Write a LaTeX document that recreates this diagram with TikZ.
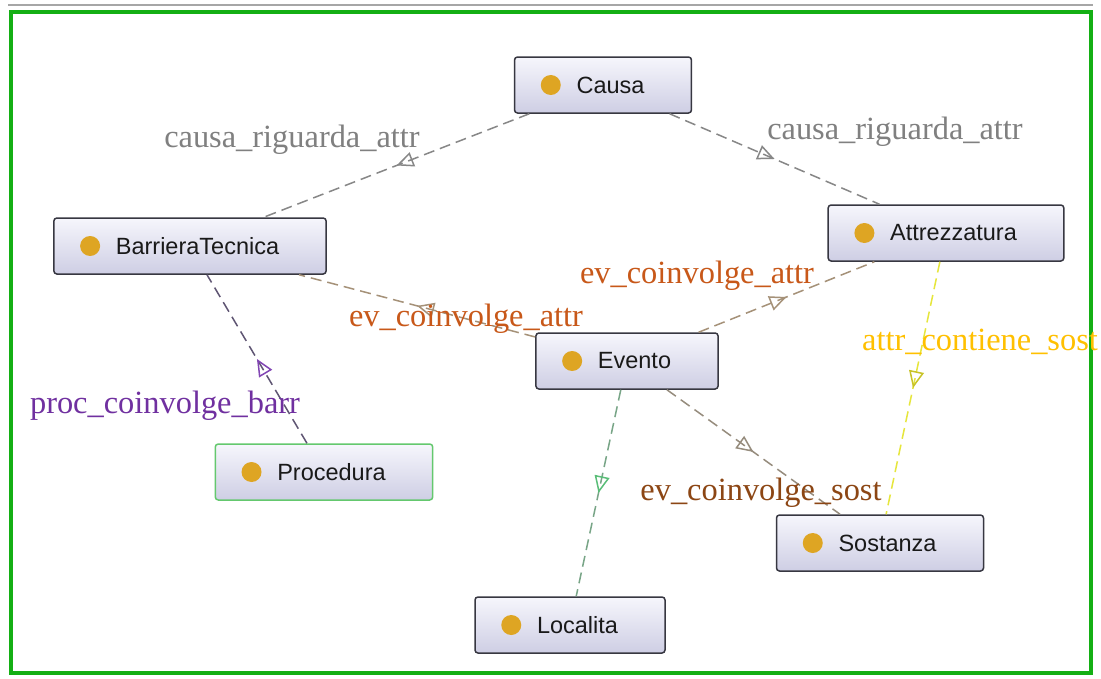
\documentclass[tikz,border=0pt]{standalone}
\usepackage{fontspec}
\usetikzlibrary{arrows.meta,decorations.markings}
\newfontfamily\nodefont{Liberation Sans}
\newfontfamily\labfont{Liberation Serif}
\definecolor{frame}{RGB}{20,175,20}
\definecolor{ntop}{RGB}{246,246,252}
\definecolor{nbot}{RGB}{206,206,228}
\definecolor{nborder}{RGB}{55,55,65}
\definecolor{ballc}{RGB}{222,165,35}
\definecolor{labgray}{RGB}{128,128,128}
\definecolor{laborange}{RGB}{200,88,25}
\definecolor{labbrown}{RGB}{140,70,20}
\definecolor{labgold}{RGB}{255,192,0}
\definecolor{labpurple}{RGB}{112,48,160}
\definecolor{egray}{RGB}{135,135,135}
\definecolor{etan}{RGB}{165,145,120}
\definecolor{epurple}{RGB}{95,85,115}
\definecolor{apurple}{RGB}{130,70,180}
\definecolor{egreen}{RGB}{120,165,135}
\definecolor{agreen}{RGB}{90,190,120}
\definecolor{ebrown}{RGB}{150,140,125}
\definecolor{eyellow}{RGB}{230,230,60}
\definecolor{ayellow}{RGB}{200,195,40}
\definecolor{pgreen}{RGB}{100,200,110}
\tikzset{
  cls/.style={rectangle, rounded corners=3pt, draw=nborder, line width=1.5pt,
    top color=ntop, bottom color=nbot, minimum height=56pt, inner ysep=0pt,
    inner xsep=47pt, font=\nodefont\fontsize{23.5}{28}\selectfont, text=black!90,
    execute at begin node={\hspace*{15pt}}},
  sel/.style={draw=pgreen},
  ball/.style={fill=ballc},
  edge/.style={line width=1.5pt, dash pattern=on 11pt off 6pt},
  midarrow/.style={postaction={decorate}, decoration={markings,
    mark=at position 0.5 with {\arrow[#1, line width=1.5pt]{Triangle[open,length=17pt,width=15pt]}}}},
  lab/.style={anchor=base, font=\labfont\fontsize{32.4}{38}\selectfont, inner sep=0pt}
}
\begin{document}
\begin{tikzpicture}[x=1pt,y=-1pt]
\useasboundingbox (0,0) rectangle (1101,678);
\fill[white] (0,0) rectangle (1101,678);
\draw[gray!70, line width=1.5pt] (8,5) -- (1093,5);
\draw[frame, line width=4pt] (11,12) rectangle (1091,673);

% classes
\node[cls] (causa) at (603,85) {Causa};
\node[cls] (barr) at (190,246) {BarrieraTecnica};
\node[cls] (attr) at (946,233) {Attrezzatura};
\node[cls] (evento) at (627,361) {Evento};
\node[cls, sel] (proc) at (324,472) {Procedura};
\node[cls] (sost) at (880,543) {Sostanza};
\node[cls] (loc) at (570,625) {Localita};
\foreach \n in {causa,barr,attr,evento,proc,sost,loc}
  \fill[ball] ([xshift=37pt]\n.west) circle (10pt);

% connectors
\draw[edge, egray, midarrow=egray] (causa) -- (barr);
\draw[edge, egray, midarrow=egray] (causa) -- (attr);
\draw[edge, etan, midarrow=etan] (evento) -- (barr);
\draw[edge, etan, midarrow=etan] (evento) -- (attr);
\draw[edge, epurple, midarrow=apurple] (proc) -- (barr);
\draw[edge, egreen, midarrow=agreen] (evento) -- (loc);
\draw[edge, ebrown, midarrow=ebrown] (evento) -- (sost);
\draw[edge, eyellow, midarrow=ayellow] (attr) -- (sost);

% labels
\node[lab, labgray] (l1) at (292,147) {causa\_riguarda\_attr};
\node[lab, labgray] (l2) at (895,139) {causa\_riguarda\_attr};
\node[lab, laborange] (l3) at (697,283) {ev\_coinvolge\_attr};
\node[lab, laborange] (l4) at (466,326) {ev\_coinvolge\_attr};
\node[lab, labgold] (l5) at (980,350) {attr\_contiene\_sost};
\node[lab, labpurple] (l6) at (165,413) {proc\_coinvolge\_barr};
\node[lab, labbrown] (l7) at (761,500) {ev\_coinvolge\_sost};
\end{tikzpicture}
\end{document}
